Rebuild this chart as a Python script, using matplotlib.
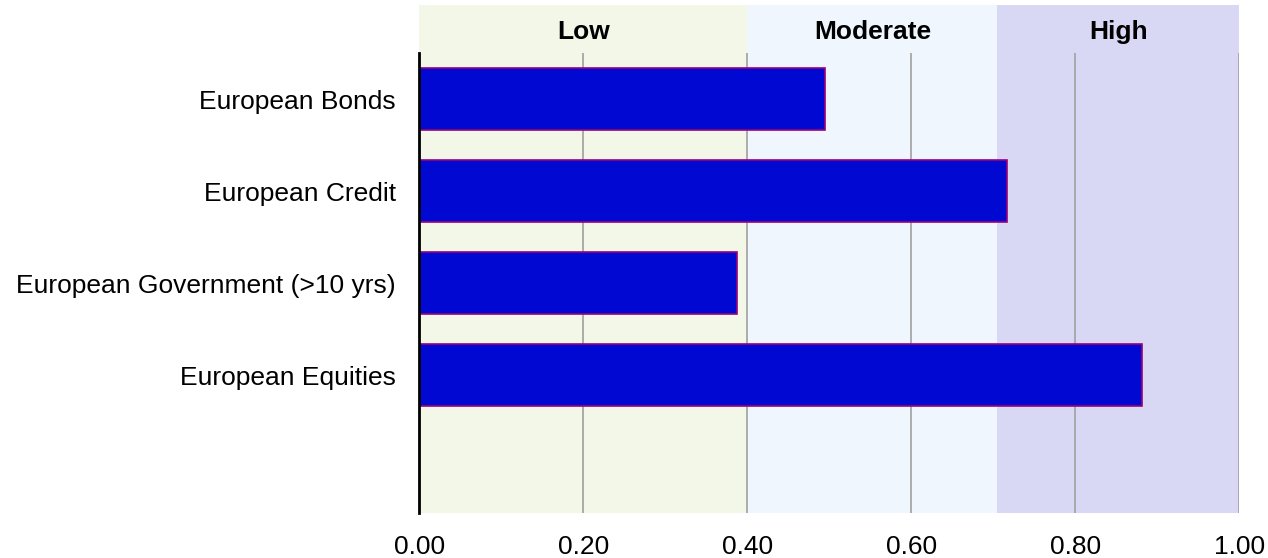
import matplotlib.pyplot as plt
import numpy as np

plt.rcParams['font.family'] = ['Liberation Sans', 'DejaVu Sans']

categories = ['European Bonds', 'European Credit', 'European Government (>10 yrs)', 'European Equities']
values = [0.495, 0.717, 0.387, 0.881]

band_labels = ['Low', 'Moderate', 'High']
band_edges = [0.0, 0.40, 0.705, 1.0]
band_colors = ['#f2f7e8', '#eff6fd', '#d8d8f4']

ticks = [0.0, 0.2, 0.4, 0.6, 0.8, 1.0]

fig = plt.figure(figsize=(12.68, 5.58), dpi=100)
ax = fig.add_axes([419.3 / 1268, 45 / 558, 820 / 1268, 508 / 558])

n_slots = len(categories) + 1          # one empty slot at the bottom
head = 48 / 92                         # header strip height in slot units
y = np.arange(len(categories))

ax.set_xlim(0, 1.0)
ax.set_ylim(n_slots - 0.5, -0.5 - head)

# risk bands, including the header strip
for i, lab in enumerate(band_labels):
    ax.axvspan(band_edges[i], band_edges[i + 1], color=band_colors[i], zorder=0, lw=0)
    ax.text((band_edges[i] + band_edges[i + 1]) / 2, -0.5 - head / 2 + 0.03, lab,
            ha='center', va='center', fontsize=19, fontweight='bold')

# vertical grid lines only below the header
ax.vlines(ticks[1:], -0.5, n_slots - 0.5, color='#a0a0a0', lw=1.2, zorder=1)

ax.barh(y, values, height=0.67, color='#0008d2', edgecolor='#990077', linewidth=1.2, zorder=2)

ax.set_yticks(y, categories)
ax.set_xticks(ticks, [f'{t:.2f}' for t in ticks])
ax.tick_params(axis='both', length=0, labelsize=19)
ax.tick_params(axis='y', pad=17)
ax.tick_params(axis='x', pad=16)

for s in ['top', 'right', 'bottom']:
    ax.spines[s].set_visible(False)
ax.spines['left'].set_bounds(-0.5, n_slots - 0.5)
ax.spines['left'].set_linewidth(2)
ax.spines['left'].set_zorder(3)

plt.savefig('out.png', dpi=100)
